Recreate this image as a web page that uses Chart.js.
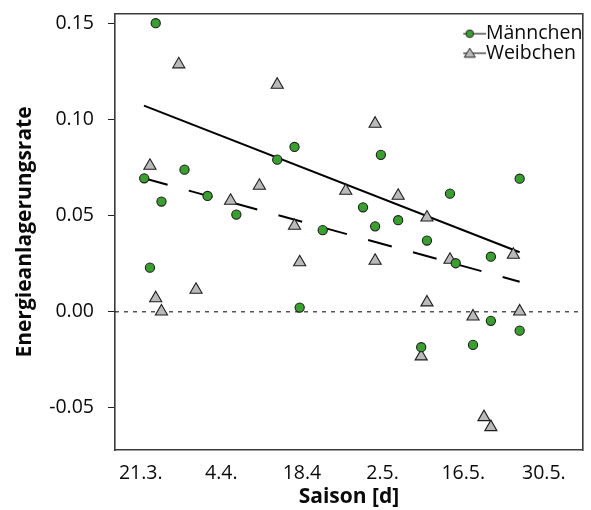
<!DOCTYPE html>
<html><head><meta charset="utf-8">
<script src="https://cdn.jsdelivr.net/npm/chart.js@4"></script>
<style>html,body{margin:0;padding:0;background:#fff}</style>
</head><body>
<canvas id="c" width="591" height="510"></canvas>
<script>
// ---- data (x = days after 21.3.) ----
const seriesNames = ['Männchen', 'Weibchen'];
const maleDays = [0.6, 1.6, 2.6, 3.6, 7.6, 11.6, 16.6, 23.7, 26.7, 27.6, 31.6, 38.6, 40.7, 41.7, 44.7, 48.7, 49.7, 53.7, 54.7, 57.7, 60.8, 60.8, 65.8, 65.8];
const maleRate = [0.0695, 0.0230, 0.1502, 0.0574, 0.0740, 0.0603, 0.0506, 0.0792, 0.0858, 0.0022, 0.0425, 0.0544, 0.0445, 0.0817, 0.0477, -0.0184, 0.0371, 0.0615, 0.0253, -0.0172, 0.0287, -0.0047, 0.0693, -0.0098];
const femaleDays = [1.6, 2.6, 3.6, 6.6, 9.6, 15.6, 20.6, 23.7, 26.7, 27.6, 35.6, 40.7, 40.7, 44.7, 48.7, 49.7, 49.7, 53.7, 57.7, 59.6, 60.8, 64.7, 65.8];
const femaleRate = [0.0760, 0.0071, 0.0002, 0.1288, 0.0115, 0.0578, 0.0656, 0.1182, 0.0448, 0.0258, 0.0630, 0.0979, 0.0266, 0.0604, -0.0232, 0.0491, 0.0049, 0.0271, -0.0024, -0.0548, -0.0600, 0.0297, 0.0002];
const fitDays = [0.56, 65.8];
const fitSolid = [0.1073, 0.0310];
const fitDashed = [0.0695, 0.0157];
const xTickDays = [0, 14, 28, 42, 56, 70];
const xTickLabels = ['21.3.', '4.4.', '18.4', '2.5.', '16.5.', '30.5.'];
const yTickValues = [-0.05, 0, 0.05, 0.10, 0.15];
const yTickLabels = ['-0.05', '0.00', '0.05', '0.10', '0.15'];

// ---- styling / axis ranges ----
const X_MIN = -4.47, X_MAX = 76.78, Y_MIN = -0.0719, Y_MAX = 0.1550;
const FONT = "'Open Sans', 'Noto Sans', sans-serif";
const GREEN = '#39a02f', GRAY = '#bababa', EDGE = '#1e1e1e', FRAME = '#3a3a3a', INK = '#0a0a0a';

Chart.defaults.font.family = FONT;

function pts(xs, ys) { return xs.map((x, i) => ({x: x, y: ys[i]})); }

function glyph(kind) {
  const c = document.createElement('canvas');
  c.width = 32; c.height = 14;
  const g = c.getContext('2d');
  g.strokeStyle = '#222'; g.lineWidth = 1.2;
  g.beginPath(); g.moveTo(0, 7); g.lineTo(32, 7); g.stroke();
  g.lineWidth = 1;
  g.beginPath();
  if (kind === 'circle') {
    g.arc(16, 7, 3.8, 0, Math.PI * 2);
    g.fillStyle = GREEN;
  } else {
    g.moveTo(16, 2); g.lineTo(21.5, 11); g.lineTo(10.5, 11); g.closePath();
    g.fillStyle = GRAY;
  }
  g.fill(); g.stroke();
  return c;
}
const glyphs = [glyph('circle'), glyph('triangle')];

const zeroPad = (s) => { s.paddingTop = 0; s.paddingBottom = 0; s.paddingLeft = 0; s.paddingRight = 0; };

const legendPlace = {
  id: 'legendPlace',
  beforeDraw(chart) {
    const lg = chart.legend;
    if (!lg) return;
    const w = lg.width, h = lg.height;
    lg.left = 463.25; lg.top = 23.95; lg.right = lg.left + w; lg.bottom = lg.top + h;
  }
};

new Chart(document.getElementById('c'), {
  type: 'scatter',
  data: {
    datasets: [
      { label: seriesNames[0], data: pts(maleDays, maleRate), pointStyle: 'circle', pointRadius: 4.6,
        backgroundColor: GREEN, borderColor: EDGE, borderWidth: 1.1 },
      { label: seriesNames[1], data: pts(femaleDays, femaleRate), pointStyle: 'triangle', pointRadius: 7,
        backgroundColor: GRAY, borderColor: EDGE, borderWidth: 1.1 },
      { label: 'fit1', data: pts(fitDays, fitSolid), showLine: true, pointRadius: 0,
        borderColor: '#000', borderWidth: 2 },
      { label: 'fit2', data: pts(fitDays, fitDashed), showLine: true, pointRadius: 0,
        borderColor: '#000', borderWidth: 2, borderDash: [24.5, 22] },
      { label: 'zero', data: pts([X_MIN, X_MAX], [0, 0]), showLine: true, pointRadius: 0,
        borderColor: '#000', borderWidth: 1, borderDash: [4, 5] }
    ]
  },
  options: {
    responsive: false,
    animation: false,
    layout: { padding: { top: 14, right: 8, left: 0, bottom: 0 } },
    plugins: {
      tooltip: { enabled: false },
      legend: {
        position: 'chartArea',
        align: 'start',
        labels: {
          usePointStyle: true,
          pointStyleWidth: 12.9,
          padding: 0,
          color: INK,
          font: { family: FONT, size: 19.5 },
          generateLabels: () => seriesNames.map((t, i) => ({
            text: t, pointStyle: glyphs[i], fillStyle: 'transparent', strokeStyle: 'transparent',
            lineWidth: 0, hidden: false, datasetIndex: i, fontColor: INK
          }))
        }
      }
    },
    scales: {
      x: {
        type: 'linear', position: 'bottom', min: X_MIN, max: X_MAX,
        afterBuildTicks(s) { s.ticks = xTickDays.map(v => ({value: v})); },
        afterFit(s) { s.height = 60; zeroPad(s); },
        ticks: { callback: (v, i) => xTickLabels[i], autoSkip: false, maxRotation: 0, minRotation: 0,
                 padding: 11.3, color: INK, font: { family: FONT, size: 19.5 } },
        grid: { display: false, drawTicks: false },
        border: { display: true, color: FRAME, width: 1.6 },
        title: { display: true, text: 'Saison [d]', color: INK,
                 font: { family: FONT, size: 21, weight: 'bold' }, padding: { top: 0, bottom: 0 } }
      },
      y: {
        type: 'linear', position: 'left', min: Y_MIN, max: Y_MAX,
        afterBuildTicks(s) { s.ticks = yTickValues.map(v => ({value: v})); },
        afterFit(s) { s.width = 115; zeroPad(s); },
        ticks: { callback: (v, i) => yTickLabels[i], padding: 14, color: INK,
                 font: { family: FONT, size: 19.5 } },
        grid: { drawOnChartArea: false, drawTicks: true, tickLength: 7, color: '#222', lineWidth: 1 },
        border: { display: true, color: FRAME, width: 1.6 },
        title: { display: true, text: 'Energieanlagerungsrate', color: INK,
                 font: { family: FONT, size: 21, weight: 'bold' }, padding: { top: 12.4, bottom: 0 } }
      },
      x2: {
        type: 'linear', position: 'top', min: X_MIN, max: X_MAX,
        ticks: { display: false }, grid: { display: false, drawTicks: false },
        border: { display: true, color: FRAME, width: 1.6 },
        afterFit(s) { s.height = 0; zeroPad(s); }
      },
      y2: {
        type: 'linear', position: 'right', min: Y_MIN, max: Y_MAX,
        ticks: { display: false }, grid: { display: false, drawTicks: false },
        border: { display: true, color: FRAME, width: 1.6 },
        afterFit(s) { s.width = 0; zeroPad(s); }
      }
    }
  },
  plugins: [legendPlace]
});
</script>
</body></html>
